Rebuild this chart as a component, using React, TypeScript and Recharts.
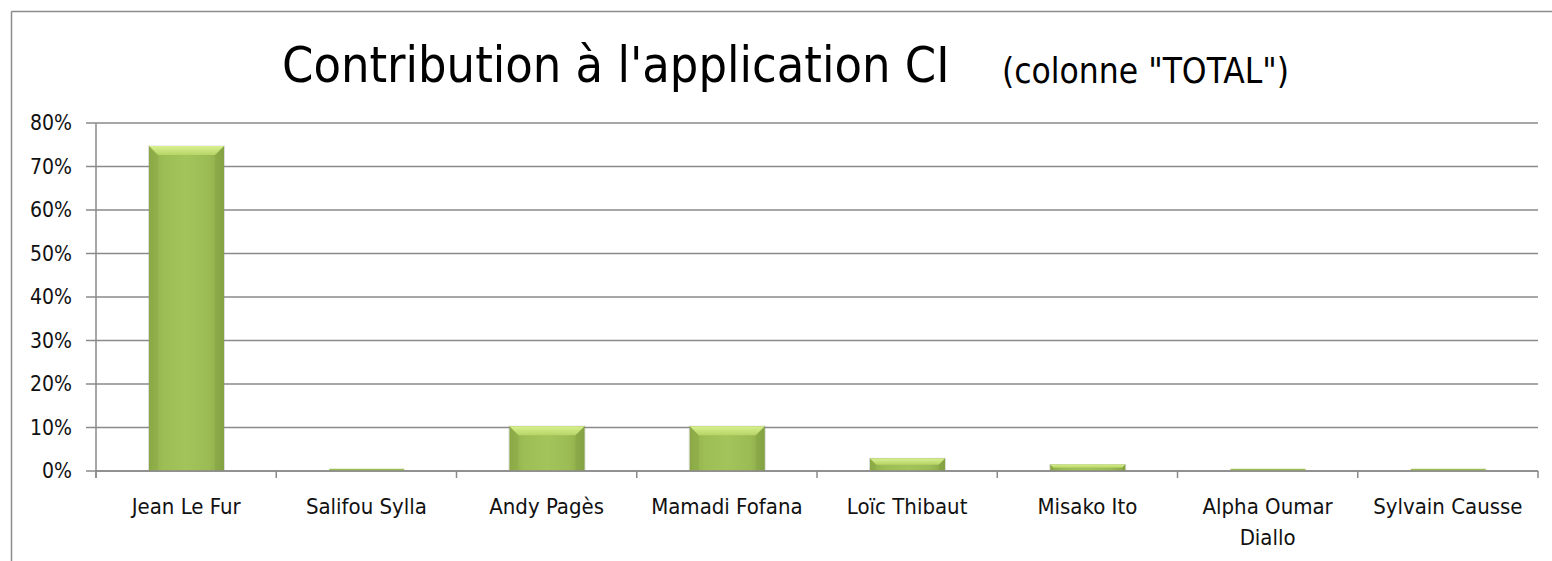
import React from 'react';
import { BarChart, Bar, XAxis, YAxis, CartesianGrid } from 'recharts';

const categories: string[] = [
  'Jean Le Fur',
  'Salifou Sylla',
  'Andy Pagès',
  'Mamadi Fofana',
  'Loïc Thibaut',
  'Misako Ito',
  'Alpha Oumar Diallo',
  'Sylvain Causse',
];
const totals: number[] = [74.7, 0.4, 10.3, 10.3, 2.9, 1.5, 0.4, 0.4];
const yTicks: number[] = [0, 10, 20, 30, 40, 50, 60, 70, 80];
const titleText = "Contribution à l'application CI";
const subtitleText = '(colonne "TOTAL")';

const data = categories.map((name, i) => ({ name, total: totals[i] }));

const W = 1552;
const H = 561;
const Y_AXIS_W = 96;
const MARGIN_RIGHT = 14;
const PLOT_W = W - Y_AXIS_W - MARGIN_RIGHT;
const BAND = PLOT_W / categories.length;
const FONT = '"DejaVu Sans Condensed", "DejaVu Sans", sans-serif';
const GRID = '#8a8a8a';

function wrap(label: string, max: number): string[] {
  const words = label.split(' ');
  const lines: string[] = [];
  let cur = '';
  for (const w of words) {
    const next = cur ? cur + ' ' + w : w;
    if (next.length > max && cur) {
      lines.push(cur);
      cur = w;
    } else {
      cur = next;
    }
  }
  if (cur) lines.push(cur);
  return lines;
}

const XTick = (props: any) => {
  const { x, y, payload, index } = props;
  const lines = wrap(String(payload.value), 14);
  const left = x - BAND / 2;
  const right = x + BAND / 2;
  const isLast = index === categories.length - 1;
  return (
    <g>
      <line x1={left} y1={y} x2={left} y2={y + 7} stroke={GRID} strokeWidth={1.5} />
      {isLast && <line x1={right} y1={y} x2={right} y2={y + 7} stroke={GRID} strokeWidth={1.5} />}
      <text textAnchor="middle" fontFamily={FONT} fontSize={22} fill="#111">
        {lines.map((l, i) => (
          <tspan key={i} x={x} y={y + 43 + i * 31}>
            {l}
          </tspan>
        ))}
      </text>
    </g>
  );
};

const BevelBar = (props: any) => {
  const { x, y, width, height } = props;
  if (!height || height <= 0) return null;
  if (height < 3) {
    return <rect x={x} y={y - 0.5} width={width} height={height + 0.5} fill="#9cbc55" />;
  }
  const b = Math.min(9, height / 2);
  return (
    <g>
      <rect x={x - 1} y={y - 0.5} width={width + 2} height={height + 1} fill="#8a8a8a" opacity={0.3} />
      <rect x={x} y={y} width={width} height={height} fill="url(#barBody)" />
      <polygon
        points={`${x},${y} ${x + b},${y + b} ${x + b},${y + height} ${x},${y + height}`}
        fill="#6f8f32"
        opacity={0.15}
      />
      <polygon
        points={`${x + width},${y} ${x + width - b},${y + b} ${x + width - b},${y + height} ${x + width},${y + height}`}
        fill="#6f8f32"
        opacity={0.22}
      />
      <polygon
        points={`${x},${y} ${x + width},${y} ${x + width - b},${y + b} ${x + b},${y + b}`}
        fill="url(#barTop)"
      />
    </g>
  );
};

export default function App() {
  return (
    <div style={{ position: 'absolute', left: 0, top: 0, width: W, height: H, background: '#fff' }}>
      <BarChart
        width={W}
        height={H}
        data={data}
        margin={{ top: 123, right: MARGIN_RIGHT, bottom: 0, left: 0 }}
      >
        <defs>
          <linearGradient id="barBody" x1="0" y1="0" x2="1" y2="0">
            <stop offset="0%" stopColor="#8fae4a" />
            <stop offset="20%" stopColor="#9dbe55" />
            <stop offset="50%" stopColor="#a3c45b" />
            <stop offset="80%" stopColor="#9bbb54" />
            <stop offset="100%" stopColor="#8aa847" />
          </linearGradient>
          <linearGradient id="barTop" x1="0" y1="0" x2="0" y2="1">
            <stop offset="0%" stopColor="#d9f090" />
            <stop offset="100%" stopColor="#b6d466" />
          </linearGradient>
        </defs>
        <CartesianGrid vertical={false} stroke={GRID} strokeWidth={1.5} />
        <XAxis
          dataKey="name"
          height={90}
          interval={0}
          tickLine={false}
          tickSize={0}
          tickMargin={0}
          axisLine={{ stroke: GRID, strokeWidth: 1.5 }}
          tick={<XTick />}
        />
        <YAxis
          width={Y_AXIS_W}
          domain={[0, 80]}
          ticks={yTicks}
          interval={0}
          tickFormatter={(v: number) => `${v}%`}
          tickSize={10}
          tickMargin={14}
          tickLine={{ stroke: GRID, strokeWidth: 1.5 }}
          axisLine={{ stroke: GRID, strokeWidth: 1.5 }}
          tick={{ fontFamily: FONT, fontSize: 21, fill: '#111' }}
        />
        <Bar dataKey="total" barSize={75} isAnimationActive={false} shape={<BevelBar />} />
      </BarChart>
      <svg
        width={W}
        height={H}
        style={{ position: 'absolute', left: 0, top: 0, pointerEvents: 'none' }}
      >
        <line x1={11.5} y1={11.5} x2={W} y2={11.5} stroke="#8c8c8c" strokeWidth={1.5} />
        <line x1={11.5} y1={11.5} x2={11.5} y2={H} stroke="#8c8c8c" strokeWidth={1.5} />
        <line x1={Y_AXIS_W} y1={471} x2={Y_AXIS_W} y2={478} stroke={GRID} strokeWidth={1.5} />
        <text x={282} y={82} fontFamily={FONT} fontSize={50} fill="#000">
          {titleText}
        </text>
        <text x={1002} y={83} fontFamily={FONT} fontSize={35} fill="#000">
          {subtitleText}
        </text>
      </svg>
    </div>
  );
}
